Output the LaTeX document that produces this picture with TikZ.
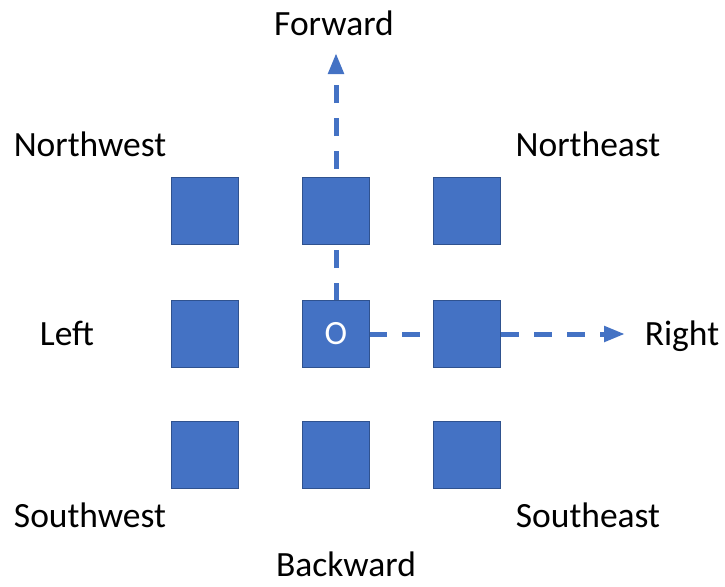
\documentclass[tikz,border=0pt]{standalone}
\usepackage{fontspec}
\setmainfont{Carlito}
\usetikzlibrary{arrows.meta,backgrounds}

\definecolor{azul}{HTML}{4472C4}
\definecolor{azuloscuro}{HTML}{2F528F}

\tikzset{
  casilla/.style={draw=azuloscuro, line width=1.8pt, fill=azul, minimum size=67pt,
                  inner sep=0pt, text=white, font=\fontsize{34}{40}\selectfont},
  etiqueta/.style={anchor=base, font=\fontsize{35.5}{42}\selectfont},
  flecha/.style={azul, line width=5pt, dash pattern=on 18pt off 15pt,
                 -{Triangle[length=21pt,width=15pt]}}
}

\begin{document}
\begin{tikzpicture}[x=1pt,y=-1pt]
    \useasboundingbox (0,0) rectangle (725,586);

    % Rejilla de casillas 3x3
    \foreach \x/\y/\nombre in {205/211/nw, 336/211/n, 467/211/ne,
                               205/334/w,              467/334/e,
                               205/455/sw, 336/455/s, 467/455/se} {
        \node[casilla] (\nombre) at (\x,\y) {};
    }
    \node[casilla] (o) at (336,334) {O}; % casilla central

    % Extremos de las flechas
    \coordinate (fin-arriba)  at (336,53);
    \coordinate (fin-derecha) at (625,334);

    % Flechas discontinuas, por debajo de las casillas
    \begin{scope}[on background layer]
        \draw[flecha] (o.center) -- (fin-arriba);
        \draw[flecha] (o.center) -- (fin-derecha);
    \end{scope}

    % Etiquetas de direcciones
    \foreach \x/\y/\texto/\nombre in {334/36/Forward/lab-f, 90/156/Northwest/lab-nw,
                                      588/156/Northeast/lab-ne, 67/345/Left/lab-l,
                                      682/345/Right/lab-r, 90/527/Southwest/lab-sw,
                                      588/527/Southeast/lab-se, 346/576/Backward/lab-b} {
        \node[etiqueta] (\nombre) at (\x,\y) {\texto};
    }
\end{tikzpicture}
\end{document}
